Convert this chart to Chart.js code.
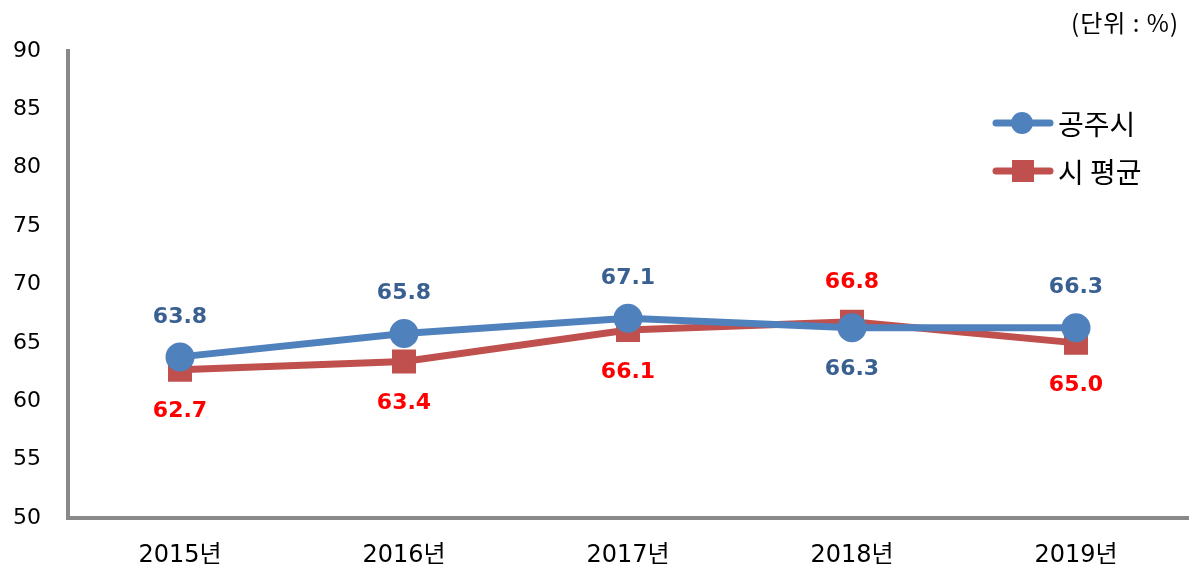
<!DOCTYPE html>
<html>
<head>
<meta charset="utf-8">
<script src="https://cdn.jsdelivr.net/npm/chart.js@4.4.0/dist/chart.umd.min.js"></script>
<style>
  body { margin: 0; background: #fff; overflow: hidden; }
  #wrap { position: relative; width: 1191px; height: 573px; overflow: hidden; }
  canvas { display: block; }
  #unit { position: absolute; right: 12px; top: 4px; font: 24px "Noto Sans CJK KR", "DejaVu Sans", sans-serif; letter-spacing: 1px; color: #000; }
</style>
</head>
<body>
<div id="wrap">
  <!-- canvas is a bit wider than the page: Chart.js keeps some right padding for the x scale -->
  <canvas id="chartGongju" width="1207" height="573"></canvas>
  <div id="unit">(단위 : %)</div>
</div>
<script>
const years = ["2015년", "2016년", "2017년", "2018년", "2019년"];
const gongju = [63.8, 65.8, 67.1, 66.3, 66.3];
const cityAvg = [62.7, 63.4, 66.1, 66.8, 65.0];
const yTicks = [50, 55, 60, 65, 70, 75, 80, 85, 90];

const blue = "#4F81BD";
const red = "#C0504D";
const numFont = '"DejaVu Sans", "Noto Sans CJK KR", sans-serif';
const krFont = '"Noto Sans CJK KR", "DejaVu Sans", sans-serif';

// value labels above/below each point
const valueLabels = {
  id: "valueLabels",
  afterDatasetsDraw(chart) {
    const ctx = chart.ctx;
    chart.data.datasets.forEach((ds, i) => {
      const meta = chart.getDatasetMeta(i);
      meta.data.forEach((pt, j) => {
        const up = ds.labelSide[j] === "up";
        ctx.save();
        ctx.font = "bold 22px " + numFont;
        ctx.fillStyle = ds.labelColor;
        ctx.textAlign = "center";
        ctx.textBaseline = "middle";
        ctx.fillText(ds.data[j].toFixed(1), pt.x, pt.y + (up ? -40 : 42));
        ctx.restore();
      });
    });
  }
};

// legend drawn at the right, vertical
const sideLegend = {
  id: "sideLegend",
  afterDraw(chart) {
    const ctx = chart.ctx;
    chart.data.datasets.forEach((ds, i) => {
      const y = 123 + i * 48;
      ctx.save();
      ctx.strokeStyle = ds.borderColor;
      ctx.lineWidth = 7;
      ctx.lineCap = "round";
      ctx.beginPath();
      ctx.moveTo(996, y);
      ctx.lineTo(1050, y);
      ctx.stroke();
      ctx.fillStyle = ds.backgroundColor;
      if (ds.pointStyle === "rect") {
        ctx.fillRect(1012, y - 11, 22, 22);
      } else {
        ctx.beginPath();
        ctx.arc(1022, y, 11, 0, Math.PI * 2);
        ctx.fill();
      }
      ctx.fillStyle = "#000";
      ctx.font = "28px " + krFont;
      ctx.textBaseline = "middle";
      ctx.fillText(ds.label, 1058, y + 1);
      ctx.restore();
    });
  }
};

const data = {
  labels: years,
  datasets: [
    {
      label: "공주시",
      data: gongju,
      borderColor: blue,
      backgroundColor: blue,
      borderWidth: 7,
      pointStyle: "circle",
      pointRadius: 11,
      labelColor: "#3A6092",
      labelSide: ["up", "up", "up", "down", "up"],
    },
    {
      label: "시 평균",
      data: cityAvg,
      borderColor: red,
      backgroundColor: red,
      borderWidth: 7,
      pointStyle: "rect",
      pointRadius: 12,
      labelColor: "#FF0000",
      labelSide: ["down", "down", "down", "up", "down"],
    },
  ],
};

const config = {
  type: "line",
  data,
  options: {
    responsive: false,
    animation: false,
    layout: { padding: { top: 51, right: 2, left: 0, bottom: 0 } },
    plugins: { legend: { display: false }, tooltip: { enabled: false } },
    scales: {
      x: {
        offset: true,
        grid: { display: true, drawOnChartArea: false, drawTicks: false },
        border: { display: true, color: "#898989", width: 4 },
        ticks: { color: "#000", font: { size: 24, family: numFont }, padding: 23 },
        afterFit: (s) => { s.height = 55; },
      },
      y: {
        min: 50,
        max: 90,
        afterBuildTicks: (s) => { s.ticks = yTicks.map((v) => ({ value: v })); },
        grid: { display: true, drawOnChartArea: false, drawTicks: false },
        border: { display: true, color: "#898989", width: 4 },
        ticks: { color: "#000", font: { size: 22, family: numFont }, padding: 27 },
        afterFit: (s) => { s.width = 68; },
      },
    },
  },
  plugins: [valueLabels, sideLegend],
};

const chartGongju = new Chart(document.getElementById("chartGongju"), config);
</script>
</body>
</html>
